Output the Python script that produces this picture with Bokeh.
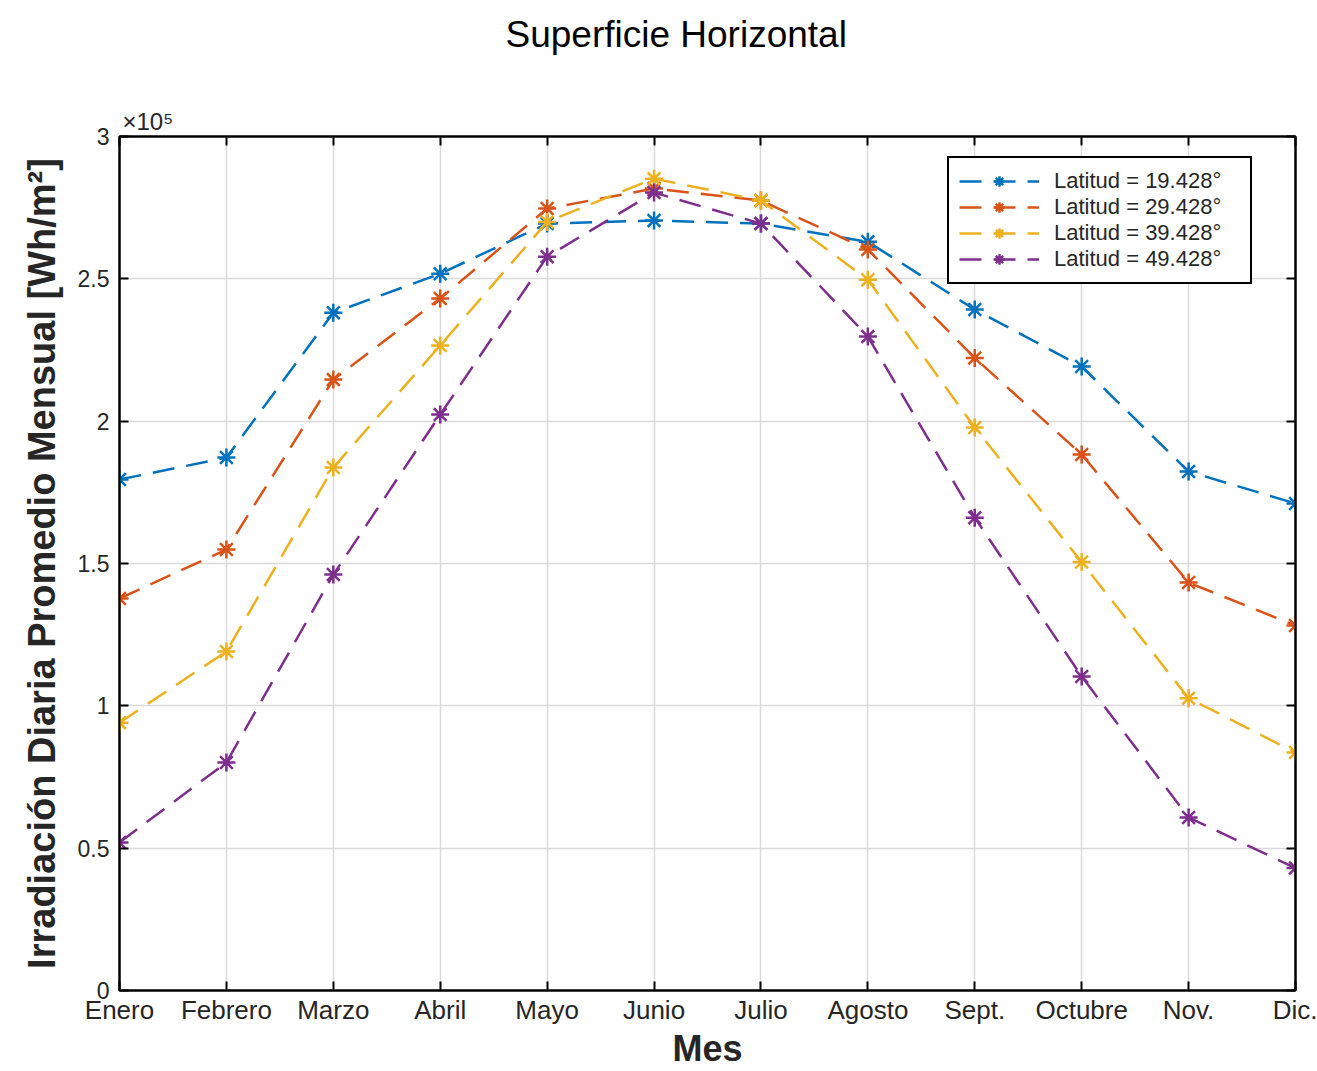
from bokeh.plotting import figure
from bokeh.models import Range1d, FixedTicker, LinearAxis, Title, Legend
from bokeh.embed import file_html
from bokeh.resources import INLINE

months = ["Enero", "Febrero", "Marzo", "Abril", "Mayo", "Junio", "Julio",
          "Agosto", "Sept.", "Octubre", "Nov.", "Dic."]
month_idx = list(range(1, 13))

lat_19 = [179500, 187200, 238100, 251800, 269400, 270500, 269400, 263000, 239200, 219200, 182300, 171100]
lat_29 = [137700, 154900, 214600, 243100, 274700, 281700, 277500, 260300, 222200, 188300, 143300, 128200]
lat_39 = [94100, 119100, 183700, 226600, 270000, 285200, 277500, 249700, 197800, 150500, 102700, 83600]
lat_49 = [52000, 80100, 146100, 202300, 257800, 280300, 269400, 229700, 166100, 110300, 60800, 43000]

series = [
    ("Latitud = 19.428\u00b0", lat_19, "#0072BD"),
    ("Latitud = 29.428\u00b0", lat_29, "#D95319"),
    ("Latitud = 39.428\u00b0", lat_39, "#EDB120"),
    ("Latitud = 49.428\u00b0", lat_49, "#7E2F8E"),
]

y_ticks = [0, 50000, 100000, 150000, 200000, 250000, 300000]
y_tick_labels = ["0", "0.5", "1", "1.5", "2", "2.5", "3"]

FONT = "Liberation Sans"
TXT = "#262626"

p = figure(width=1317, height=1071, output_backend="svg", toolbar_location=None,
           x_range=Range1d(1, 12), y_range=Range1d(0, 300000),
           min_border_left=119, min_border_right=22, min_border_top=136, min_border_bottom=81)

p.title.text = "Superficie Horizontal"
p.title.text_font = FONT
p.title.text_font_size = "37px"
p.title.text_font_style = "normal"
p.title.text_color = "#000000"
p.title.align = "left"
p.title.offset = 386
p.title.standoff = 22

p.outline_line_color = "#000000"
p.outline_line_width = 2
p.background_fill_color = "white"

xt = FixedTicker(ticks=month_idx)
yt = FixedTicker(ticks=y_ticks)

xa = p.xaxis[0]
xa.ticker = xt
xa.major_label_overrides = {i: m for i, m in zip(month_idx, months)}
ya = p.yaxis[0]
ya.ticker = yt
ya.major_label_overrides = {t: l for t, l in zip(y_ticks, y_tick_labels)}

for ax in (xa, ya):
    ax.axis_line_color = "#000000"
    ax.axis_line_width = 2
    ax.major_tick_in = 9
    ax.major_tick_out = 0
    ax.major_tick_line_color = "#000000"
    ax.major_tick_line_width = 2
    ax.minor_tick_line_color = None
    ax.major_label_text_font = FONT
    ax.major_label_text_color = TXT
    ax.axis_label_text_font = FONT
    ax.axis_label_text_font_style = "bold"
    ax.axis_label_text_color = TXT

xa.major_label_text_font_size = "26px"
xa.major_label_standoff = 4
xa.axis_label = "Mes"
xa.axis_label_text_font_size = "36px"
xa.axis_label_standoff = 0

ya.major_label_text_font_size = "23px"
ya.major_label_standoff = 10
ya.axis_label = "Irradiaci\u00f3n Diaria Promedio Mensual [Wh/m\u00b2]"
ya.axis_label_text_font_size = "38px"
ya.axis_label_standoff = 12

top = LinearAxis(ticker=xt)
right = LinearAxis(ticker=yt)
for ax in (top, right):
    ax.axis_line_color = "#000000"
    ax.axis_line_width = 2
    ax.major_tick_in = 9
    ax.major_tick_out = 0
    ax.major_tick_line_color = "#000000"
    ax.major_tick_line_width = 2
    ax.minor_tick_line_color = None
    ax.major_label_text_font_size = "1px"
    ax.major_label_text_alpha = 0
    ax.major_label_standoff = 0
p.add_layout(top, "above")
p.add_layout(right, "right")

sci = Title(text="\u00d710\u2075", align="left", offset=3, standoff=4,
            text_font=FONT, text_font_size="24px", text_font_style="normal",
            text_color=TXT)
p.add_layout(sci, "above")

spacer = Title(text=".", standoff=35, text_font_size="1px", text_color="#ffffff")
p.add_layout(spacer, "above")

p.xgrid.ticker = xt
p.ygrid.ticker = yt
p.xgrid.grid_line_color = "#dadada"
p.ygrid.grid_line_color = "#dadada"
p.xgrid.grid_line_width = 1.5
p.ygrid.grid_line_width = 1.5

items = []
for label, vals, color in series:
    r1 = p.line(month_idx, vals, line_color=color, line_width=2.5, line_dash="22 12")
    r2 = p.scatter(month_idx, vals, marker="asterisk", size=18, line_color=color, line_width=2.5)
    items.append((label, [r1, r2]))

legend = Legend(items=items, location=(828, 706))
legend.label_text_font = FONT
legend.label_text_font_size = "22px"
legend.label_text_color = TXT
legend.glyph_width = 80
legend.glyph_height = 26
legend.label_height = 26
legend.label_width = 186
legend.label_standoff = 15
legend.spacing = 0
legend.padding = 10
legend.margin = 0
legend.border_line_color = "#000000"
legend.border_line_alpha = 1
legend.border_line_width = 2
legend.background_fill_color = "white"
legend.background_fill_alpha = 1
p.add_layout(legend, "center")

open("out.html", "w").write(file_html(p, INLINE))
